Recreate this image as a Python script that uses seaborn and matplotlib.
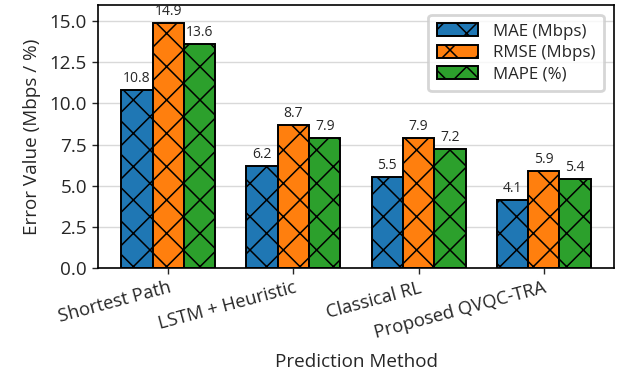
import matplotlib
matplotlib.use("Agg")
import matplotlib.pyplot as plt
import matplotlib.patches as mpatches
import seaborn as sns
import pandas as pd

methods = ["Shortest Path", "LSTM + Heuristic", "Classical RL", "Proposed QVQC-TRA"]
metrics = ["MAE (Mbps)", "RMSE (Mbps)", "MAPE (%)"]
mae = [10.8, 6.2, 5.5, 4.1]
rmse = [14.9, 8.7, 7.9, 5.9]
mape = [13.6, 7.9, 7.2, 5.4]
colors = ["#1f77b4", "#ff7f0e", "#2ca02c"]

df = pd.DataFrame({
    "Method": methods * 3,
    "Metric": [m for m in metrics for _ in methods],
    "Value": mae + rmse + mape,
})

sns.set_style("white")
plt.rcParams["font.family"] = ["Open Sans", "DejaVu Sans"]
plt.rcParams["hatch.linewidth"] = 0.55

fig = plt.figure(figsize=(3.085, 1.86), dpi=200)
ax = fig.add_axes([0.159, 0.280, 0.836, 0.707])

sns.barplot(data=df, x="Method", y="Value", hue="Metric", palette=colors,
            width=0.75, gap=0, edgecolor="black", linewidth=0.7,
            saturation=1, ax=ax)

for bar in ax.patches:
    bar.set_hatch("xx")

for cont in ax.containers:
    ax.bar_label(cont, fmt="%.1f", padding=1.5, fontsize=5.0)

ax.set_xlim(-0.56, 3.56)
ax.set_ylim(0, 16)
ax.set_yticks([0, 2.5, 5, 7.5, 10, 12.5, 15])
ax.set_yticklabels([f"{v:.1f}" for v in [0, 2.5, 5, 7.5, 10, 12.5, 15]])
ax.yaxis.grid(True, color="#d9d9d9", linewidth=0.5)
ax.set_axisbelow(True)
ax.tick_params(axis="y", labelsize=6.8, length=2, width=0.5, pad=2, left=True)
ax.tick_params(axis="x", labelsize=6.6, length=2, width=0.5, pad=2, bottom=True)
plt.setp(ax.get_xticklabels(), rotation=15, ha="right", rotation_mode="anchor")
for s in ax.spines.values():
    s.set_color("black")
    s.set_linewidth(0.6)

ax.set_xlabel("Prediction Method", fontsize=6.8, labelpad=4)
ax.set_ylabel("Error Value (Mbps / %)", fontsize=6.8, labelpad=3)

handles = [mpatches.Patch(facecolor=c, edgecolor="black", hatch="xx", linewidth=0.7, label=m)
           for c, m in zip(colors, metrics)]
ax.legend(handles=handles, loc="upper right", fontsize=6.1, frameon=True,
          handlelength=2.4, handleheight=0.8, borderpad=0.5, labelspacing=0.3,
          handletextpad=0.9, framealpha=0.8, edgecolor="#cccccc", fancybox=True,
          borderaxespad=0.6)

fig.savefig("out.png", dpi=200)
